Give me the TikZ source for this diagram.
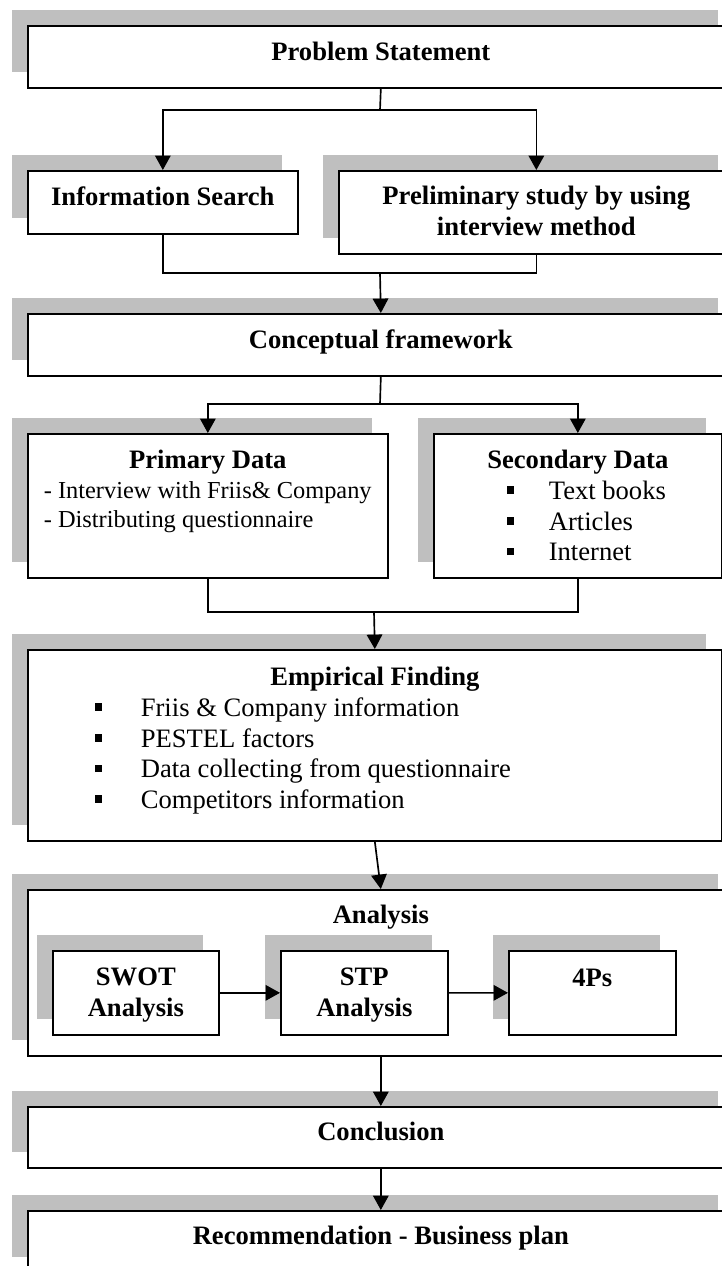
\documentclass[tikz,border=0pt]{standalone}
\usepackage{fontspec}
\setmainfont{Liberation Serif}
\usepackage{tikz}
\usetikzlibrary{shadows, arrows.meta, positioning, calc}

% one unit of the drawing
\newlength{\pxu}
\setlength{\pxu}{0.4511pt}
\newcommand{\sqbullet}{\rule[2.5pt]{3.4pt}{3.4pt}}
\newcommand{\sqline}[4]{\makebox[#1\pxu][l]{\rlap{\hspace*{#2\pxu}\sqbullet}\hspace*{#3\pxu}#4}}
\newcommand{\smallline}[1]{{\fontsize{11pt}{12.65pt}\selectfont\makebox[328\pxu][l]{#1}}}

\begin{document}
\begin{tikzpicture}[
  x=0.4511pt, y=-0.4511pt,
  box/.style={draw, line width=0.75pt, fill=white, inner sep=0pt, anchor=north west, align=center,
    font=\fontsize{12pt}{13.8pt}\selectfont,
    general shadow={fill=gray!50, shadow xshift=-16\pxu, shadow yshift=16\pxu}},
  link/.style={line width=0.75pt},
  arrow/.style={line width=0.75pt, -{Triangle[width=7pt, length=6.5pt]}}
]
  \useasboundingbox (0,0) rectangle (722,1266);
  \clip (0,0) rectangle (722,1266);

  % Start
  % (text height runs down to the baseline of the last line)
  \node[box, minimum width=706\pxu, text height=35\pxu, text depth=27\pxu] (prob) at (27,25) {\textbf{Problem Statement}};

  % Search and preliminary study
  \node[box, minimum width=270\pxu, text height=35\pxu, text depth=28\pxu] (info) at (27,170) {\textbf{Information Search}};
  \node[box, minimum width=395\pxu, text height=64.6\pxu, text depth=18.4\pxu] (prelim) at (338,170) {\textbf{Preliminary study by using}\\\textbf{interview method}};

  \node[box, minimum width=706\pxu, text height=35\pxu, text depth=27\pxu] (concept) at (27,313) {\textbf{Conceptual framework}};

  % Data sources
  \node[box, minimum width=360\pxu, text height=94\pxu, text depth=50\pxu] (primary) at (27,433) {\textbf{Primary Data}\\[-0.5pt]
    \smallline{- Interview with Friis\& Company}\\[-0.5pt]
    \smallline{- Distributing questionnaire}};
  \node[box, minimum width=288\pxu, text height=126.8\pxu, text depth=17.2\pxu] (second) at (433,433) {\textbf{Secondary Data}\\
    \sqline{288}{73}{115}{Text books}\\
    \sqline{288}{73}{115}{Articles}\\
    \sqline{288}{73}{115}{Internet}};

  \node[box, minimum width=694\pxu, text height=158.4\pxu, text depth=32.6\pxu] (empir) at (27,649) {\textbf{Empirical Finding}\\
    \sqline{694}{67}{113}{Friis \& Company information}\\
    \sqline{694}{67}{113}{PESTEL factors}\\
    \sqline{694}{67}{113}{Data collecting from questionnaire}\\
    \sqline{694}{67}{113}{Competitors information}};

  % Analysis and its three steps
  \node[box, minimum width=706\pxu, text height=34\pxu, text depth=132\pxu] (analysis) at (27,889) {\textbf{Analysis}};
  \node[box, minimum width=166\pxu, text height=65.6\pxu, text depth=18.4\pxu] (swot) at (52,950) {\textbf{SWOT}\\\textbf{Analysis}};
  \node[box, minimum width=167\pxu, text height=65.6\pxu, text depth=18.4\pxu] (stp) at (280,950) {\textbf{STP}\\\textbf{Analysis}};
  \node[box, minimum width=167\pxu, text height=36\pxu, text depth=48\pxu] (fourp) at (508,950) {\textbf{4Ps}};

  % End
  \node[box, minimum width=706\pxu, text height=34\pxu, text depth=27\pxu] (concl) at (27,1106) {\textbf{Conclusion}};
  \node[box, minimum width=706\pxu, text height=34\pxu, text depth=28\pxu] (recom) at (27,1210) {\textbf{Recommendation - Business plan}};

  % Junctions
  \coordinate (split1) at (380,110);
  \coordinate (join1) at (380,273);
  \coordinate (split2) at (380,404);
  \coordinate (join2) at (374,612);

  % Arrows
  \draw[link] (prob.south) -- (split1);
  \draw[arrow] (split1) -| (info.north);
  \draw[arrow] (split1) -| (prelim.north);
  \draw[link] (info.south) |- (join1) -| (prelim.south);
  \draw[arrow] (join1) -- (concept.north);
  \draw[link] (concept.south) -- (split2);
  \draw[arrow] (split2) -| (primary.north);
  \draw[arrow] (split2) -| (second.north);
  \draw[link] (primary.south) |- (join2) -| (second.south);
  \draw[arrow] (join2) -- (empir.north);
  \draw[arrow] (empir.south) -- (analysis.north);
  \draw[arrow] (swot.east) -- (stp.west);
  \draw[arrow] (stp.east) -- (fourp.west);
  \draw[arrow] (analysis.south) -- (concl.north);
  \draw[arrow] (concl.south) -- (recom.north);
\end{tikzpicture}
\end{document}
